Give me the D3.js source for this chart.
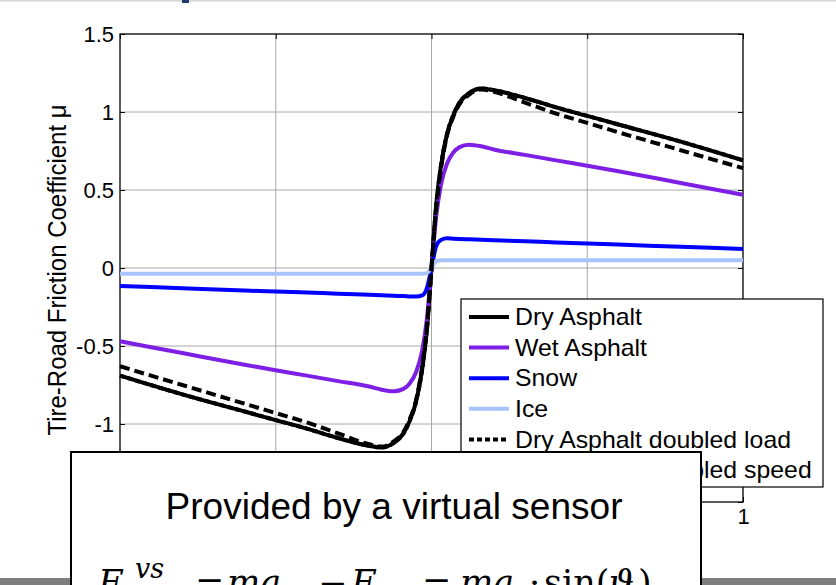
<!DOCTYPE html>
<html>
<head>
<meta charset="utf-8">
<script src="https://cdn.jsdelivr.net/npm/d3@7"></script>
<style>
  html, body { margin: 0; padding: 0; background: #fff; }
  svg { display: block; }
</style>
</head>
<body>
<script>
// ---------------- data ----------------
const slip = [-1, -0.8, -0.6, -0.5, -0.4, -0.3, -0.2, -0.16, -0.12, -0.09, -0.07, -0.05, -0.03, -0.015, 0,
              0.015, 0.03, 0.05, 0.07, 0.09, 0.12, 0.16, 0.2, 0.3, 0.4, 0.5, 0.6, 0.8, 1];
const dryAsphalt = [-0.69, -0.81, -0.92, -0.975, -1.03, -1.09, -1.14, -1.15, -1.12, -1.06, -0.98, -0.86, -0.65, -0.40, 0,
                    0.40, 0.65, 0.86, 0.98, 1.06, 1.12, 1.15, 1.14, 1.09, 1.03, 0.975, 0.92, 0.81, 0.69];
const wetAsphalt = [-0.47, -0.545, -0.62, -0.655, -0.69, -0.725, -0.76, -0.78, -0.79, -0.775, -0.74, -0.67, -0.53, -0.33, 0,
                    0.33, 0.53, 0.67, 0.74, 0.775, 0.79, 0.78, 0.76, 0.725, 0.69, 0.655, 0.62, 0.545, 0.47];
const snow = [-0.115, -0.13, -0.145, -0.15, -0.157, -0.165, -0.172, -0.175, -0.178, -0.18, -0.182, -0.183, -0.175, -0.13, 0,
              0.14, 0.18, 0.19, 0.188, 0.186, 0.184, 0.181, 0.178, 0.171, 0.164, 0.157, 0.150, 0.136, 0.122];
const ice = [-0.037, -0.037, -0.037, -0.037, -0.037, -0.037, -0.037, -0.037, -0.037, -0.037, -0.037, -0.037, -0.037, -0.033, 0,
             0.045, 0.049, 0.049, 0.049, 0.049, 0.049, 0.049, 0.049, 0.049, 0.049, 0.049, 0.049, 0.049, 0.049];
const dryDoubledLoad = [-0.69, -0.81, -0.92, -0.975, -1.03, -1.09, -1.14, -1.15, -1.12, -1.06, -0.98, -0.86, -0.65, -0.40, 0,
                        0.40, 0.65, 0.86, 0.98, 1.06, 1.12, 1.15, 1.14, 1.09, 1.03, 0.975, 0.92, 0.81, 0.69];
const dryDoubledSpeed = [-0.63, -0.75, -0.87, -0.93, -0.99, -1.06, -1.13, -1.145, -1.11, -1.05, -0.97, -0.85, -0.63, -0.38, 0,
                         0.38, 0.63, 0.85, 0.97, 1.05, 1.11, 1.145, 1.13, 1.06, 0.99, 0.93, 0.87, 0.755, 0.64];

const seriesNames = ["Dry Asphalt", "Wet Asphalt", "Snow", "Ice", "Dry Asphalt doubled load", "Dry Asphalt doubled speed"];
const xTicks = [-1, -0.5, 0, 0.5, 1];
// only the last x tick label is visible; the others are covered by the text box
const xTickLabels = ["", "", "", "", "1"];
const yTicks = [-1.5, -1, -0.5, 0, 0.5, 1, 1.5];
const yTickLabels = ["-1.5", "-1", "-0.5", "0", "0.5", "1", "1.5"];
const yLabel = "Tire-Road Friction Coefficient \u03bc";
const boxTitle = "Provided by a virtual sensor";

// ---------------- styles ----------------
const seriesValues = [dryAsphalt, wetAsphalt, snow, ice, dryDoubledLoad, dryDoubledSpeed];
const colors = ["#000000", "#7e1fe6", "#0000ff", "#a9c3ff", "#000000", "#000000"];
const dashes = [null, null, null, null, "5,3", "10,5"];
const W = 836, H = 585;
const FONT = "'Liberation Sans', Arial, Helvetica, sans-serif";

const svg = d3.select("body").append("svg").attr("width", W).attr("height", H)
  .style("background", "#fff");

const x = d3.scaleLinear().domain([-1, 1]).range([120, 743]);
const y = d3.scaleLinear().domain([-1.5, 1.5]).range([502, 34]);

// top slide remnants
svg.append("rect").attr("x", 0).attr("y", 0).attr("width", W).attr("height", 1.5).attr("fill", "#d6d6d6");
svg.append("rect").attr("x", 182).attr("y", 0).attr("width", 7).attr("height", 3).attr("fill", "#1f3d6b");

// grid
const grid = svg.append("g");
grid.selectAll("line.gx").data(xTicks.filter(d => d > -1 && d < 1)).join("line")
  .attr("x1", d => x(d)).attr("x2", d => x(d)).attr("y1", y(1.5)).attr("y2", y(-1.5))
  .attr("stroke", "#a8a8a8").attr("stroke-width", 1);
grid.selectAll("line.gy").data(yTicks.filter(d => d > -1.5 && d < 1.5)).join("line")
  .attr("x1", x(-1)).attr("x2", x(1)).attr("y1", d => y(d)).attr("y2", d => y(d))
  .attr("stroke", "#a8a8a8").attr("stroke-width", 1);

// axes
function styleAxis(g) {
  g.select(".domain").remove();
  g.selectAll(".tick line").attr("stroke", "#000").attr("stroke-width", 1);
  g.selectAll("text").attr("font-family", FONT).attr("font-size", 22).attr("fill", "#000");
  g.selectAll("text").filter(function () { return this.textContent === ""; }).remove();
}
svg.append("g").attr("transform", `translate(${x(-1)},0)`)
  .call(d3.axisLeft(y).tickValues(yTicks).tickSizeInner(-5).tickSizeOuter(0).tickPadding(6)
    .tickFormat((d, i) => yTickLabels[i])).call(styleAxis);
svg.append("g").attr("transform", `translate(${x(1)},0)`)
  .call(d3.axisRight(y).tickValues(yTicks).tickSizeInner(-5).tickSizeOuter(0).tickFormat(() => ""))
  .call(styleAxis);
svg.append("g").attr("transform", `translate(0,${y(1.5)})`)
  .call(d3.axisTop(x).tickValues(xTicks).tickSizeInner(-5).tickSizeOuter(0).tickFormat(() => ""))
  .call(styleAxis);
svg.append("g").attr("transform", `translate(0,${y(-1.5)})`)
  .call(d3.axisBottom(x).tickValues(xTicks).tickSizeInner(-5).tickSizeOuter(0).tickPadding(6)
    .tickFormat((d, i) => xTickLabels[i])).call(styleAxis);

// frame
svg.append("rect").attr("x", x(-1)).attr("y", y(1.5))
  .attr("width", x(1) - x(-1)).attr("height", y(-1.5) - y(1.5))
  .attr("fill", "none").attr("stroke", "#000").attr("stroke-width", 1.3);

// y label
svg.append("text")
  .attr("transform", `translate(66,270) rotate(-90) scale(1,1.08)`)
  .attr("text-anchor", "middle").attr("font-family", FONT).attr("font-size", 24)
  .text(yLabel);

// lines
const line = d3.line().x(d => x(d[0])).y(d => y(d[1])).curve(d3.curveMonotoneX);
const lines = svg.append("g");
seriesValues.forEach((vals, i) => {
  lines.append("path")
    .datum(slip.map((s, k) => [s, vals[k]]))
    .attr("d", line)
    .attr("fill", "none")
    .attr("stroke", colors[i])
    .attr("stroke-width", 4)
    .attr("stroke-linejoin", "round")
    .attr("stroke-dasharray", dashes[i]);
});

// legend
const lg = svg.append("g");
lg.append("rect").attr("x", 461).attr("y", 299).attr("width", 362).attr("height", 188)
  .attr("fill", "#fff").attr("stroke", "#000").attr("stroke-width", 1.2);
seriesNames.forEach((name, i) => {
  const cy = 317 + i * 30.6;
  lg.append("line").attr("x1", 469).attr("x2", 509).attr("y1", cy).attr("y2", cy)
    .attr("stroke", colors[i]).attr("stroke-width", 4).attr("stroke-dasharray", dashes[i]);
  lg.append("text").attr("transform", `translate(515,${cy + 8.2}) scale(1.08,1)`)
    .attr("font-family", FONT).attr("font-size", 23).text(name);
});

// bottom slide bar
svg.append("rect").attr("x", 0).attr("y", 578).attr("width", W).attr("height", 7).attr("fill", "#7f7f7f");

// text box
const tb = svg.append("g");
tb.append("rect").attr("x", 71).attr("y", 452).attr("width", 630).attr("height", 160)
  .attr("fill", "#fff").attr("stroke", "#000").attr("stroke-width", 2);
tb.append("text").attr("x", 394).attr("y", 519).attr("text-anchor", "middle")
  .attr("font-family", FONT).attr("font-size", 36).attr("textLength", 457)
  .attr("lengthAdjust", "spacingAndGlyphs").text(boxTitle);

// formula as one text element (its lower part is cut off by the page edge)
const MF = "'DejaVu Serif', 'Liberation Serif', serif";
const pieces = [
  { t: "F", x: 98, b: 595, s: 35, it: true },
  { t: "x", x: 125, b: 605, s: 24, it: true },
  { t: "vs", x: 135, b: 578, s: 27, it: true },
  { t: "=", x: 195, b: 595, s: 35, it: false },
  { t: "ma", x: 227, b: 595, s: 35, it: true },
  { t: "x", x: 285, b: 605, s: 24, it: true },
  { t: "\u2212", x: 318, b: 595, s: 35, it: false },
  { t: "F", x: 351, b: 595, s: 35, it: true },
  { t: "g", x: 378, b: 605, s: 24, it: true },
  { t: "=", x: 422, b: 595, s: 35, it: false },
  { t: "ma", x: 460, b: 595, s: 35, it: true },
  { t: "\u00b7", x: 529, b: 595, s: 35, it: false },
  { t: "sin(", x: 544, b: 595, s: 35, it: false },
  { t: "\u03d1", x: 609, b: 595, s: 35, it: true },
  { t: ")", x: 638, b: 595, s: 35, it: false }
];
const ft = tb.append("text").attr("font-family", MF).attr("fill", "#000");
pieces.forEach(p => {
  ft.append("tspan").attr("x", p.x).attr("y", p.b)
    .attr("font-size", p.s)
    .attr("font-style", p.it ? "italic" : "normal")
    .text(p.t);
});
</script>
</body>
</html>
